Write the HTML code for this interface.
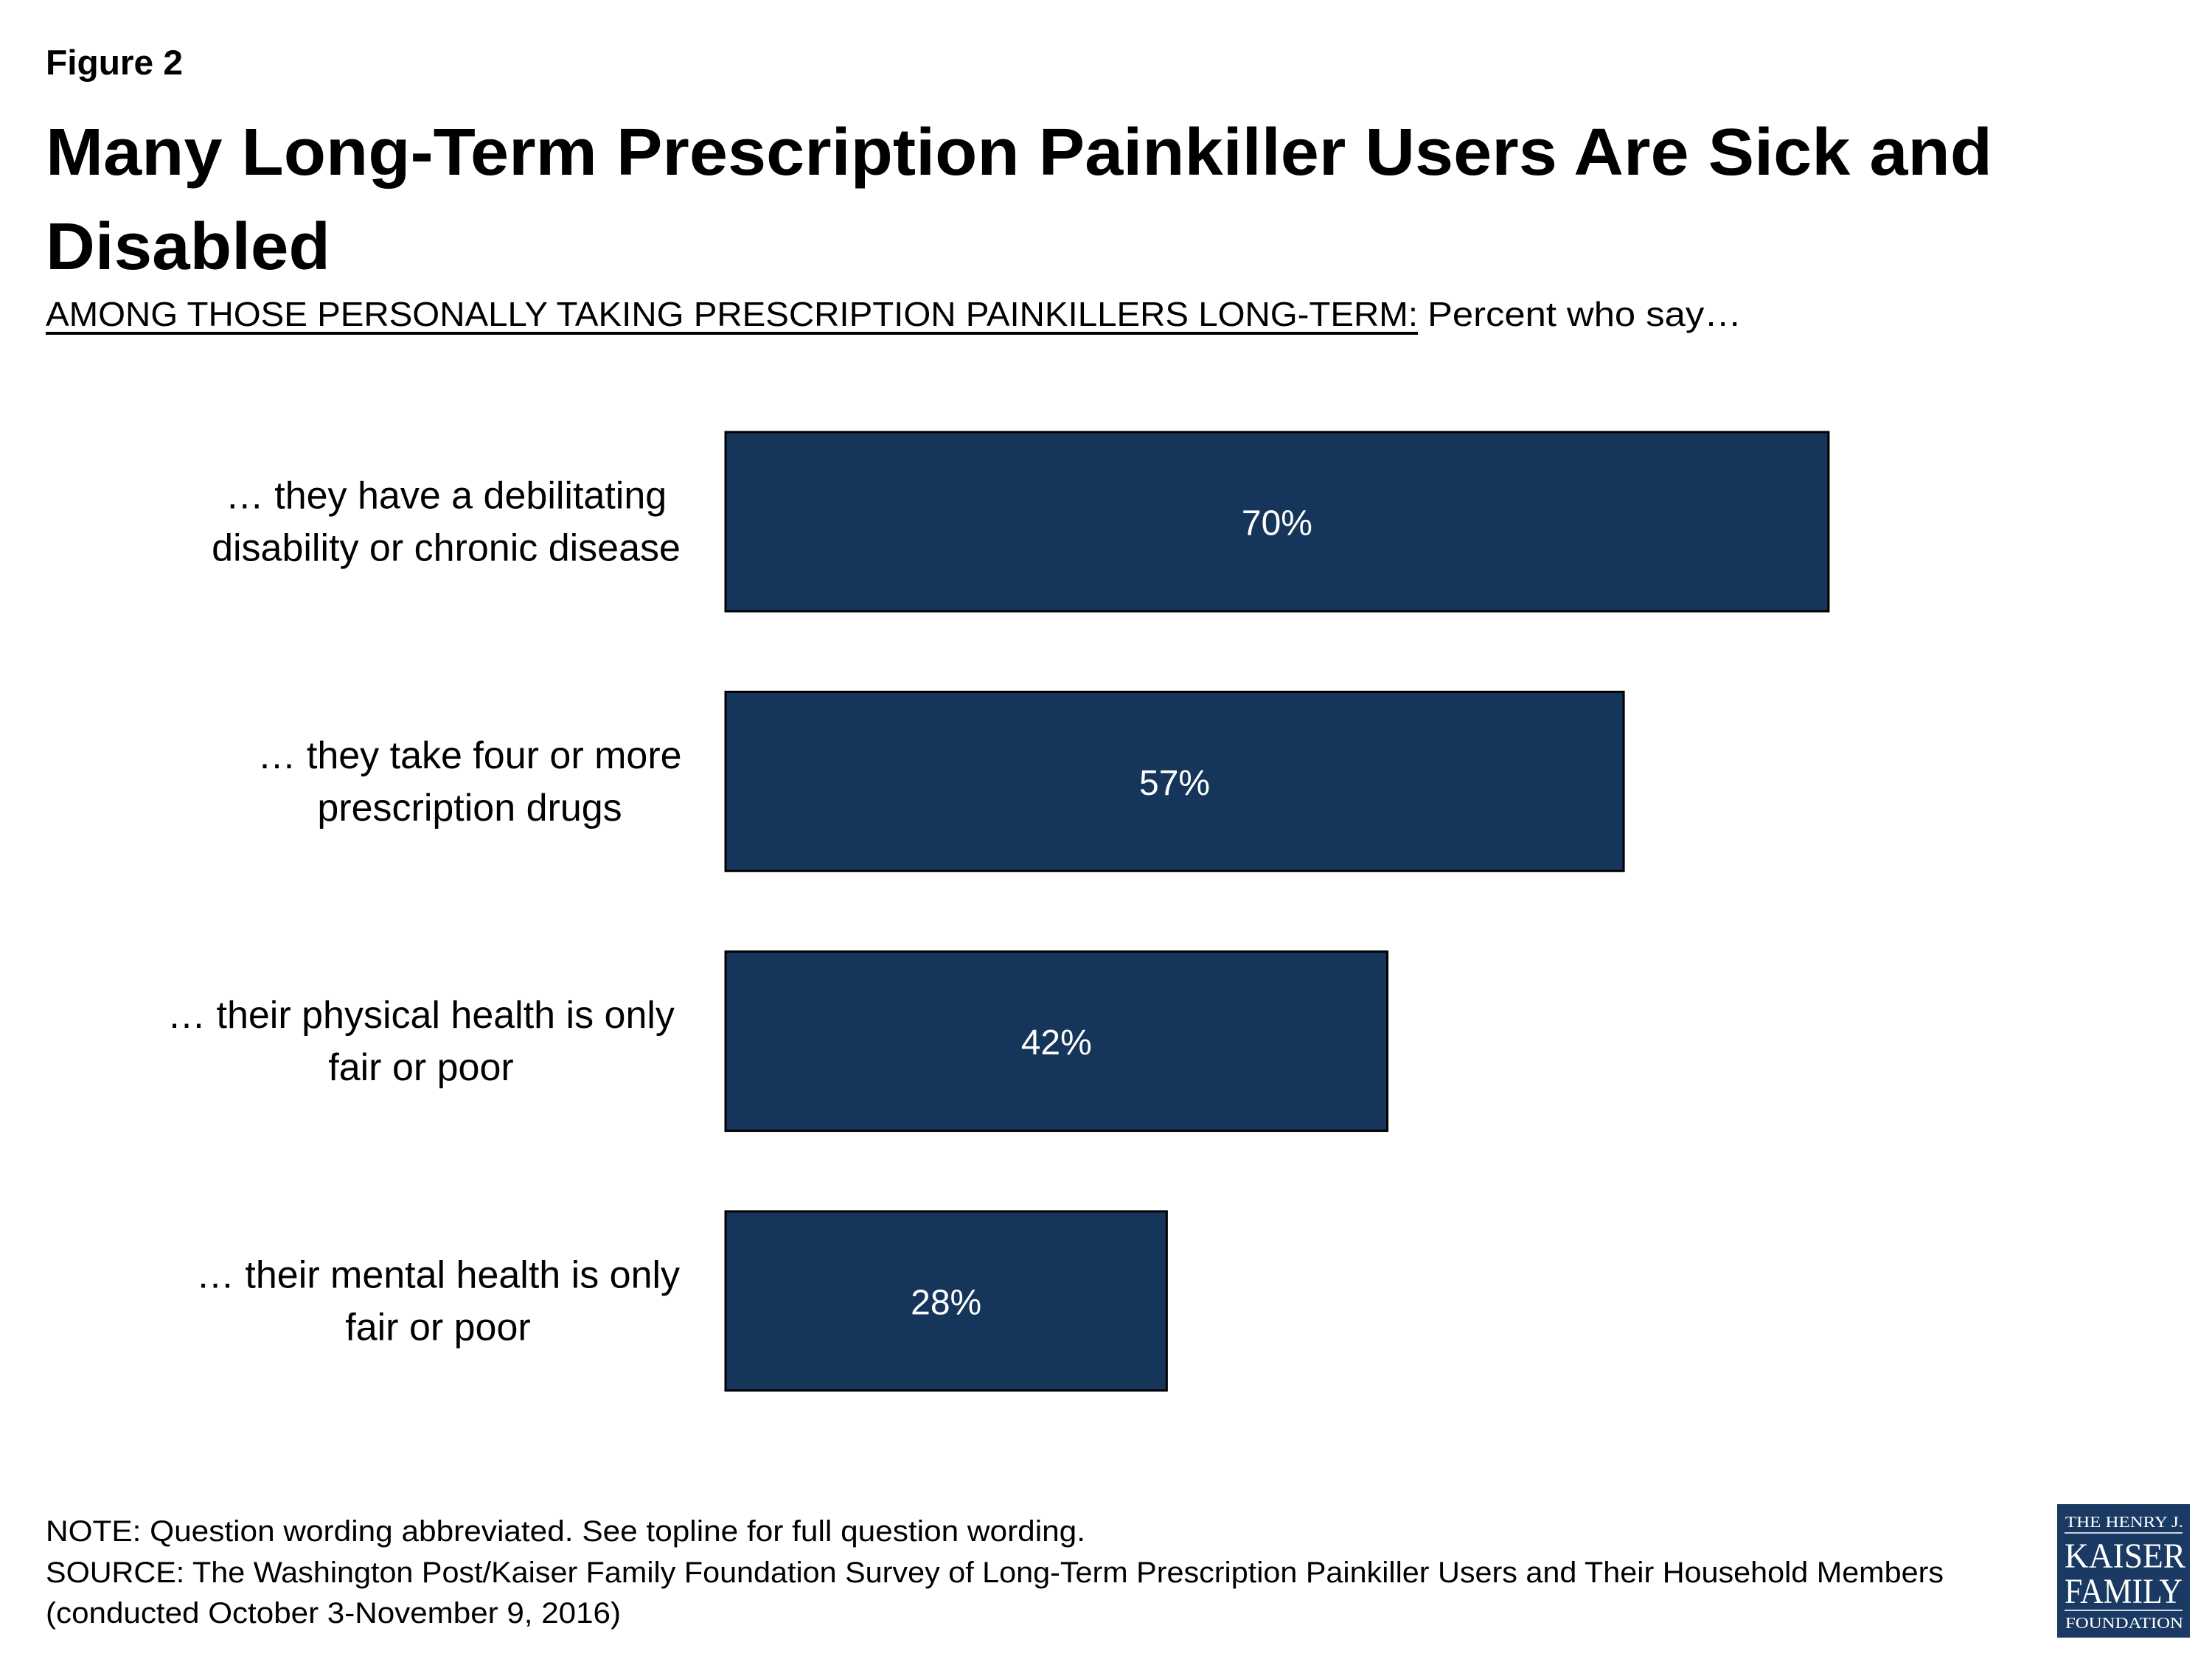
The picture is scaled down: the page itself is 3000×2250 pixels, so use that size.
<!DOCTYPE html>
<html><head><meta charset="utf-8"><style>
html,body{margin:0;padding:0;background:#fff}
svg{display:block}
text{font-family:"Liberation Sans",sans-serif}
text.serif{font-family:"Liberation Serif",serif}
</style></head><body>
<svg id="chart" width="3000" height="2250" viewBox="0 0 3000 2250" xmlns="http://www.w3.org/2000/svg">
<text x="62" y="101" font-size="47" font-weight="bold" textLength="186" lengthAdjust="spacingAndGlyphs">Figure 2</text>
<text x="62" y="237" font-size="90" font-weight="bold" textLength="2640" lengthAdjust="spacingAndGlyphs">Many Long-Term Prescription Painkiller Users Are Sick and</text>
<text x="62" y="365" font-size="90" font-weight="bold" textLength="386" lengthAdjust="spacingAndGlyphs">Disabled</text>
<text x="62" y="442" font-size="46" textLength="1861" lengthAdjust="spacingAndGlyphs">AMONG THOSE PERSONALLY TAKING PRESCRIPTION PAINKILLERS LONG-TERM:</text>
<rect x="62" y="450" width="1861" height="4" fill="#000"/>
<text x="1936" y="442" font-size="46" textLength="426" lengthAdjust="spacingAndGlyphs">Percent who say…</text>
<g id="bars"></g>
<text x="62" y="2090" font-size="40" textLength="1410" lengthAdjust="spacingAndGlyphs">NOTE: Question wording abbreviated. See topline for full question wording.</text>
<text x="62" y="2146" font-size="40" textLength="2574" lengthAdjust="spacingAndGlyphs">SOURCE: The Washington Post/Kaiser Family Foundation Survey of Long-Term Prescription Painkiller Users and Their Household Members</text>
<text x="62" y="2201" font-size="40" textLength="780" lengthAdjust="spacingAndGlyphs">(conducted October 3-November 9, 2016)</text>
<g>
<rect x="2790" y="2040" width="180" height="181" fill="#1a3a64"/>
<text class="serif" x="2881" y="2071" font-size="21" fill="#fff" text-anchor="middle" textLength="160" lengthAdjust="spacingAndGlyphs">THE HENRY J.</text>
<rect x="2800" y="2078" width="160" height="2" fill="#c8d2e0"/>
<text class="serif" x="2882" y="2126" font-size="48" fill="#fff" text-anchor="middle" textLength="164" lengthAdjust="spacingAndGlyphs">KAISER</text>
<text class="serif" x="2880" y="2174" font-size="48" fill="#fff" text-anchor="middle" textLength="160" lengthAdjust="spacingAndGlyphs">FAMILY</text>
<rect x="2800" y="2183" width="160" height="2" fill="#c8d2e0"/>
<text class="serif" x="2881" y="2208" font-size="21" fill="#fff" text-anchor="middle" textLength="160" lengthAdjust="spacingAndGlyphs">FOUNDATION</text>
</g>
</svg>
<script>
const categoriesLine1 = ["… they have a debilitating", "… they take four or more", "… their physical health is only", "… their mental health is only"];
const categoriesLine2 = ["disability or chronic disease", "prescription drugs", "fair or poor", "fair or poor"];
const values = [70, 57, 42, 28];
const valueLabels = ["70%", "57%", "42%", "28%"];

const NS = "http://www.w3.org/2000/svg";
const x0 = 984, pxPerPct = 21.37;
const xScale = v => x0 + v * pxPerPct;
const rowTop0 = 586, rowStep = 352.3, barH = 243;
const yScale = i => rowTop0 + i * rowStep;
const labelCx = [605, 637, 571, 594];
const g = document.getElementById('bars');
values.forEach((v, i) => {
  const y = yScale(i);
  const cy = y + barH / 2;
  const r = document.createElementNS(NS, 'rect');
  r.setAttribute('x', x0); r.setAttribute('y', y);
  r.setAttribute('width', xScale(v) - x0); r.setAttribute('height', barH);
  r.setAttribute('fill', '#15355a'); r.setAttribute('stroke', '#000'); r.setAttribute('stroke-width', '3');
  
  
  g.appendChild(r);
  const t = document.createElementNS(NS, 'text');
  t.setAttribute('x', (x0 + xScale(v)) / 2); t.setAttribute('y', cy + 18);
  t.setAttribute('fill', '#fff'); t.setAttribute('font-size', '48'); t.setAttribute('text-anchor', 'middle');
  t.textContent = valueLabels[i];
  
  
  g.appendChild(t);
  [categoriesLine1[i], categoriesLine2[i]].forEach((s, k) => {
    const l = document.createElementNS(NS, 'text');
    l.setAttribute('x', labelCx[i]); l.setAttribute('y', cy - 18 + k * 71);
    l.setAttribute('font-size', '52'); l.setAttribute('text-anchor', 'middle');
    l.textContent = s;
    
    
    g.appendChild(l);
  });
});
</script>
</body></html>
